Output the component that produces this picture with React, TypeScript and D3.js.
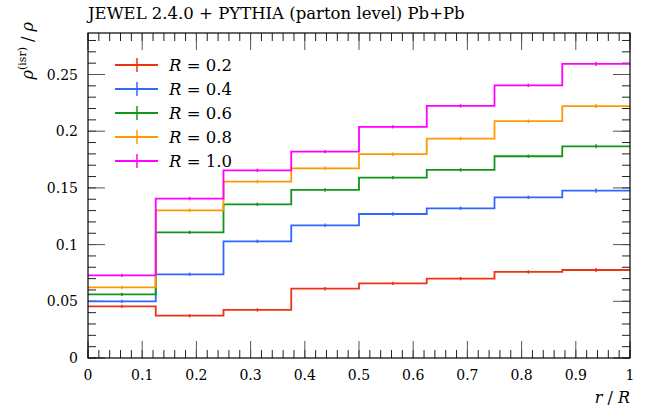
import React from "react";
import * as d3 from "d3";

const binEdges = [0, 0.125, 0.25, 0.375, 0.5, 0.625, 0.75, 0.875, 1.0];
const seriesLabels = ["0.2", "0.4", "0.6", "0.8", "1.0"];
const seriesColors = ["#EE3311", "#3366FF", "#109618", "#FF9900", "#FF00FF"];
const valsR02 = [0.0455, 0.0373, 0.0424, 0.0611, 0.0658, 0.0700, 0.0759, 0.0776];
const valsR04 = [0.0499, 0.0738, 0.1029, 0.1170, 0.1270, 0.1320, 0.1417, 0.1476];
const valsR06 = [0.0561, 0.1108, 0.1355, 0.1482, 0.1591, 0.1659, 0.1779, 0.1867];
const valsR08 = [0.0623, 0.1302, 0.1556, 0.1673, 0.1797, 0.1935, 0.2088, 0.2222];
const valsR10 = [0.0729, 0.1406, 0.1655, 0.1820, 0.2038, 0.2224, 0.2405, 0.2594];
const errs = [0.0015, 0.0015, 0.0015, 0.0015, 0.0015, 0.0015, 0.0015, 0.0018];
const xTicks = [0, 0.1, 0.2, 0.3, 0.4, 0.5, 0.6, 0.7, 0.8, 0.9, 1];
const xTickLabels = ["0", "0.1", "0.2", "0.3", "0.4", "0.5", "0.6", "0.7", "0.8", "0.9", "1"];
const yTicks = [0, 0.05, 0.1, 0.15, 0.2, 0.25];
const yTickLabels = ["0", "0.05", "0.1", "0.15", "0.2", "0.25"];

const W = 655, H = 411;
const L = 88, R = 630, T = 33, B = 358;
const YMAX = 0.2866;
const FONT = "'DejaVu Serif', 'Liberation Serif', serif";

export default function App() {
  const x = d3.scaleLinear().domain([0, 1]).range([L, R]);
  const y = d3.scaleLinear().domain([0, YMAX]).range([B, T]);
  const allSeries = [valsR02, valsR04, valsR06, valsR08, valsR10];
  const line = d3.line<[number, number]>().x(d => x(d[0])).y(d => y(d[1])).curve(d3.curveStepAfter);

  const xMinor = d3.range(0, 1.0001, 0.02);
  const yMinor = d3.range(0, YMAX, 0.01);

  return (
    <svg width={W} height={H} style={{ position: "fixed", left: 0, top: 0, background: "#fff" }} fontFamily={FONT}>
      <rect x={0} y={0} width={W} height={H} fill="#fff" />
      <text x={L} y={19} fontSize={16.5}>JEWEL 2.4.0 + PYTHIA (parton level) Pb+Pb</text>

      {/* ticks */}
      <g stroke="#222" strokeWidth={1}>
        {xMinor.map((t, i) => (
          <g key={"xm" + i}>
            <line x1={x(t)} x2={x(t)} y1={B} y2={B - 8} />
            <line x1={x(t)} x2={x(t)} y1={T} y2={T + 8} />
          </g>
        ))}
        {xTicks.map((t, i) => (
          <g key={"xM" + i}>
            <line x1={x(t)} x2={x(t)} y1={B} y2={B - 17} stroke="#555" />
            <line x1={x(t)} x2={x(t)} y1={T} y2={T + 17} stroke="#555" />
          </g>
        ))}
        {yMinor.map((t, i) => (
          <g key={"ym" + i}>
            <line x1={L} x2={L + 8} y1={y(t)} y2={y(t)} />
            <line x1={R} x2={R - 8} y1={y(t)} y2={y(t)} />
          </g>
        ))}
        {yTicks.map((t, i) => (
          <g key={"yM" + i}>
            <line x1={L} x2={L + 17} y1={y(t)} y2={y(t)} stroke="#555" />
            <line x1={R} x2={R - 17} y1={y(t)} y2={y(t)} stroke="#555" />
          </g>
        ))}
      </g>

      {/* series */}
      {allSeries.map((vals, si) => {
        const pts: [number, number][] = vals.map((v, i) => [binEdges[i], v] as [number, number]);
        pts.push([binEdges[binEdges.length - 1], vals[vals.length - 1]]);
        return (
          <g key={"s" + si}>
            <path d={line(pts) || ""} fill="none" stroke={seriesColors[si]} strokeWidth={1.8} />
            {vals.map((v, i) => {
              const cx = x((binEdges[i] + binEdges[i + 1]) / 2);
              return (
                <line key={i} x1={cx} x2={cx} y1={y(v - errs[i])} y2={y(v + errs[i])}
                  stroke={seriesColors[si]} strokeWidth={1.5} />
              );
            })}
          </g>
        );
      })}

      {/* frame */}
      <rect x={L} y={T} width={R - L} height={B - T} fill="none" stroke="#000" strokeWidth={1.2} />

      {/* tick labels */}
      {xTicks.map((t, i) => (
        <text key={"xl" + i} x={x(t)} y={380} fontSize={14} textAnchor="middle">{xTickLabels[i]}</text>
      ))}
      {yTicks.map((t, i) => (
        <text key={"yl" + i} x={78} y={y(t) + 5} fontSize={14} textAnchor="end">{yTickLabels[i]}</text>
      ))}

      {/* axis labels */}
      <text x={R} y={403} fontSize={16} textAnchor="end">
        <tspan fontStyle="italic">r</tspan> / <tspan fontStyle="italic">R</tspan>
      </text>
      <text transform={`translate(33, ${T - 11}) rotate(-90)`} fontSize={16} textAnchor="end">
        <tspan fontStyle="italic">ρ</tspan>
        <tspan fontSize={11} dy={-7}>(isr)</tspan>
        <tspan dy={7}> / </tspan>
        <tspan fontStyle="italic">ρ</tspan>
      </text>

      {/* legend */}
      {seriesLabels.map((lab, i) => {
        const ly = 65 + i * 24;
        return (
          <g key={"lg" + i}>
            <line x1={115} x2={158} y1={ly} y2={ly} stroke={seriesColors[i]} strokeWidth={1.8} />
            <line x1={137} x2={137} y1={ly - 7} y2={ly + 7} stroke={seriesColors[i]} strokeWidth={1.5} />
            <text x={169} y={ly + 6} fontSize={16.5}>
              <tspan fontStyle="italic">R</tspan> = {lab}
            </text>
          </g>
        );
      })}
    </svg>
  );
}
